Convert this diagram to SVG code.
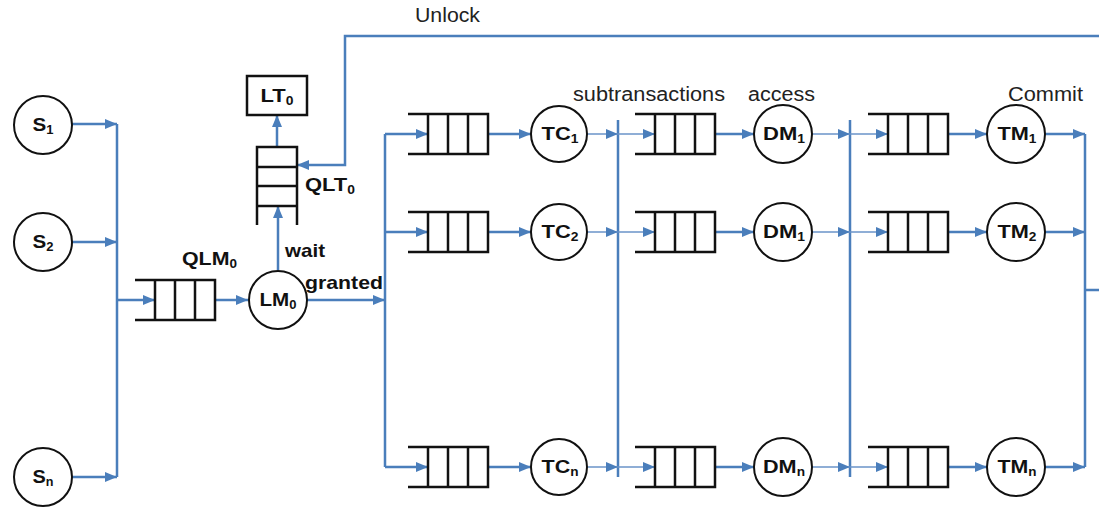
<svg xmlns="http://www.w3.org/2000/svg" width="1099" height="509" viewBox="0 0 1099 509">
<style>
.c{fill:#fff;stroke:#111;stroke-width:2}
.q{fill:none;stroke:#111;stroke-width:2.5}
.l{fill:none;stroke:#4a7ebb;stroke-width:2.5}
.t{fill:none;stroke:#6a93c8;stroke-width:1.5}
.n{font-family:"Liberation Sans",Arial,sans-serif;font-weight:bold;font-size:19px;fill:#111;text-anchor:middle}
.s{font-size:12px}
.r{font-family:"Liberation Sans",Arial,sans-serif;font-size:20px;fill:#222}
.b{font-family:"Liberation Sans",Arial,sans-serif;font-weight:bold;font-size:19px;fill:#111}
</style>
<defs>
<marker id="a" markerUnits="userSpaceOnUse" markerWidth="12" markerHeight="10" refX="12" refY="5" orient="auto"><path d="M0,0L12,5L0,10z" fill="#4a7ebb"/></marker>
<g id="qh"><path class="q" d="M0,-20H80V20H0M20,-20V20M40,-20V20M60,-20V20"/></g>
</defs>
<g id="connectors">
<path class="l" d="M72,124H117" marker-end="url(#a)"/>
<path class="l" d="M72,242H117" marker-end="url(#a)"/>
<path class="l" d="M72,477H117" marker-end="url(#a)"/>
<path class="l" d="M117,124V477"/>
<path class="l" d="M117,300H155" marker-end="url(#a)"/>
<path class="l" d="M215,300H248" marker-end="url(#a)"/>
<path class="l" d="M278,270V206" marker-end="url(#a)"/>
<path class="l" d="M277,147V115" marker-end="url(#a)"/>
<path class="l" d="M1099,36H345V165H297" marker-end="url(#a)"/>
<path class="l" d="M307,300H385" marker-end="url(#a)"/>
<path class="l" d="M385,134V467"/>
<path class="l" d="M618,120V477"/>
<path class="l" d="M850,120V477"/>
<path class="l" d="M1085,134V467M1085,290H1099"/>
<path class="l" d="M385,134H428" marker-end="url(#a)"/>
<path class="l" d="M385,232H428" marker-end="url(#a)"/>
<path class="l" d="M385,467H428" marker-end="url(#a)"/>
<path class="l" d="M488,134H531" marker-end="url(#a)"/>
<path class="l" d="M488,232H531" marker-end="url(#a)"/>
<path class="l" d="M488,467H531" marker-end="url(#a)"/>
<path class="t" d="M587,134H618" marker-end="url(#a)"/>
<path class="t" d="M587,232H618" marker-end="url(#a)"/>
<path class="t" d="M587,467H618" marker-end="url(#a)"/>
<path class="t" d="M618,134H655" marker-end="url(#a)"/>
<path class="t" d="M618,232H655" marker-end="url(#a)"/>
<path class="t" d="M618,467H655" marker-end="url(#a)"/>
<path class="l" d="M715,134H754" marker-end="url(#a)"/>
<path class="l" d="M715,232H754" marker-end="url(#a)"/>
<path class="l" d="M715,467H754" marker-end="url(#a)"/>
<path class="t" d="M812,134H850" marker-end="url(#a)"/>
<path class="t" d="M812,232H850" marker-end="url(#a)"/>
<path class="t" d="M812,467H850" marker-end="url(#a)"/>
<path class="t" d="M850,134H888" marker-end="url(#a)"/>
<path class="t" d="M850,232H888" marker-end="url(#a)"/>
<path class="t" d="M850,467H888" marker-end="url(#a)"/>
<path class="l" d="M948,134H987" marker-end="url(#a)"/>
<path class="l" d="M948,232H987" marker-end="url(#a)"/>
<path class="l" d="M948,467H987" marker-end="url(#a)"/>
<path class="l" d="M1045,134H1085" marker-end="url(#a)"/>
<path class="l" d="M1045,232H1085" marker-end="url(#a)"/>
<path class="l" d="M1045,467H1085" marker-end="url(#a)"/>
</g>
<g id="S1"><circle class="c" cx="43" cy="125" r="29"/><text class="n" x="43" y="131" textLength="21" lengthAdjust="spacingAndGlyphs">S<tspan class="s" dy="3">1</tspan></text></g>
<g id="S2"><circle class="c" cx="43" cy="242" r="29"/><text class="n" x="43" y="248" textLength="21" lengthAdjust="spacingAndGlyphs">S<tspan class="s" dy="3">2</tspan></text></g>
<g id="Sn"><circle class="c" cx="43" cy="477" r="29"/><text class="n" x="43" y="483" textLength="21" lengthAdjust="spacingAndGlyphs">S<tspan class="s" dy="3">n</tspan></text></g>
<g id="QLM0"><use href="#qh" x="135" y="300"/><text class="b" x="182" y="265" textLength="55" lengthAdjust="spacingAndGlyphs">QLM<tspan class="s" dy="3">0</tspan></text></g>
<g id="LM0"><circle class="c" cx="278" cy="300" r="29"/><text class="n" x="278" y="306" textLength="37" lengthAdjust="spacingAndGlyphs">LM<tspan class="s" dy="3">0</tspan></text></g>
<g id="QLT0"><path class="q" d="M257,225V147H297V225M257,167H297M257,186H297M257,206H297"/><text class="b" x="305" y="191" textLength="50" lengthAdjust="spacingAndGlyphs">QLT<tspan class="s" dy="3">0</tspan></text></g>
<g id="LT0"><rect x="247" y="76" width="60" height="39" fill="#fff" stroke="#111" stroke-width="2.5"/><text class="n" x="277" y="102" textLength="33" lengthAdjust="spacingAndGlyphs">LT<tspan class="s" dy="3">0</tspan></text></g>
<g id="labels">
<text class="r" x="415" y="22" textLength="65" lengthAdjust="spacingAndGlyphs">Unlock</text>
<text class="b" x="285" y="257" textLength="40" lengthAdjust="spacingAndGlyphs">wait</text>
<text class="b" x="305" y="289" textLength="78" lengthAdjust="spacingAndGlyphs">granted</text>
<text class="r" x="573" y="101" textLength="152" lengthAdjust="spacingAndGlyphs">subtransactions</text>
<text class="r" x="748" y="101" textLength="67" lengthAdjust="spacingAndGlyphs">access</text>
<text class="r" x="1008" y="101" textLength="75" lengthAdjust="spacingAndGlyphs">Commit</text>
</g>
<g id="Q1a"><use href="#qh" x="408" y="134"/></g>
<g id="Q2a"><use href="#qh" x="408" y="232"/></g>
<g id="Qna"><use href="#qh" x="408" y="467"/></g>
<g id="TC1"><circle class="c" cx="559" cy="134" r="28"/><text class="n" x="560" y="140" textLength="37" lengthAdjust="spacingAndGlyphs">TC<tspan class="s" dy="3">1</tspan></text></g>
<g id="TC2"><circle class="c" cx="559" cy="232" r="28"/><text class="n" x="560" y="238" textLength="37" lengthAdjust="spacingAndGlyphs">TC<tspan class="s" dy="3">2</tspan></text></g>
<g id="TCn"><circle class="c" cx="559" cy="467" r="28"/><text class="n" x="560" y="473" textLength="37" lengthAdjust="spacingAndGlyphs">TC<tspan class="s" dy="3">n</tspan></text></g>
<g id="Q1b"><use href="#qh" x="635" y="134"/></g>
<g id="Q2b"><use href="#qh" x="635" y="232"/></g>
<g id="Qnb"><use href="#qh" x="635" y="467"/></g>
<g id="DM1"><circle class="c" cx="783" cy="134" r="29"/><text class="n" x="784" y="140" textLength="42" lengthAdjust="spacingAndGlyphs">DM<tspan class="s" dy="3">1</tspan></text></g>
<g id="DM1b"><circle class="c" cx="783" cy="232" r="29"/><text class="n" x="784" y="238" textLength="42" lengthAdjust="spacingAndGlyphs">DM<tspan class="s" dy="3">1</tspan></text></g>
<g id="DMn"><circle class="c" cx="783" cy="467" r="29"/><text class="n" x="784" y="473" textLength="42" lengthAdjust="spacingAndGlyphs">DM<tspan class="s" dy="3">n</tspan></text></g>
<g id="Q1c"><use href="#qh" x="868" y="134"/></g>
<g id="Q2c"><use href="#qh" x="868" y="232"/></g>
<g id="Qnc"><use href="#qh" x="868" y="467"/></g>
<g id="TM1"><circle class="c" cx="1016" cy="134" r="29"/><text class="n" x="1017" y="140" textLength="39" lengthAdjust="spacingAndGlyphs">TM<tspan class="s" dy="3">1</tspan></text></g>
<g id="TM2"><circle class="c" cx="1016" cy="232" r="29"/><text class="n" x="1017" y="238" textLength="39" lengthAdjust="spacingAndGlyphs">TM<tspan class="s" dy="3">2</tspan></text></g>
<g id="TMn"><circle class="c" cx="1016" cy="467" r="29"/><text class="n" x="1017" y="473" textLength="39" lengthAdjust="spacingAndGlyphs">TM<tspan class="s" dy="3">n</tspan></text></g>
</svg>
